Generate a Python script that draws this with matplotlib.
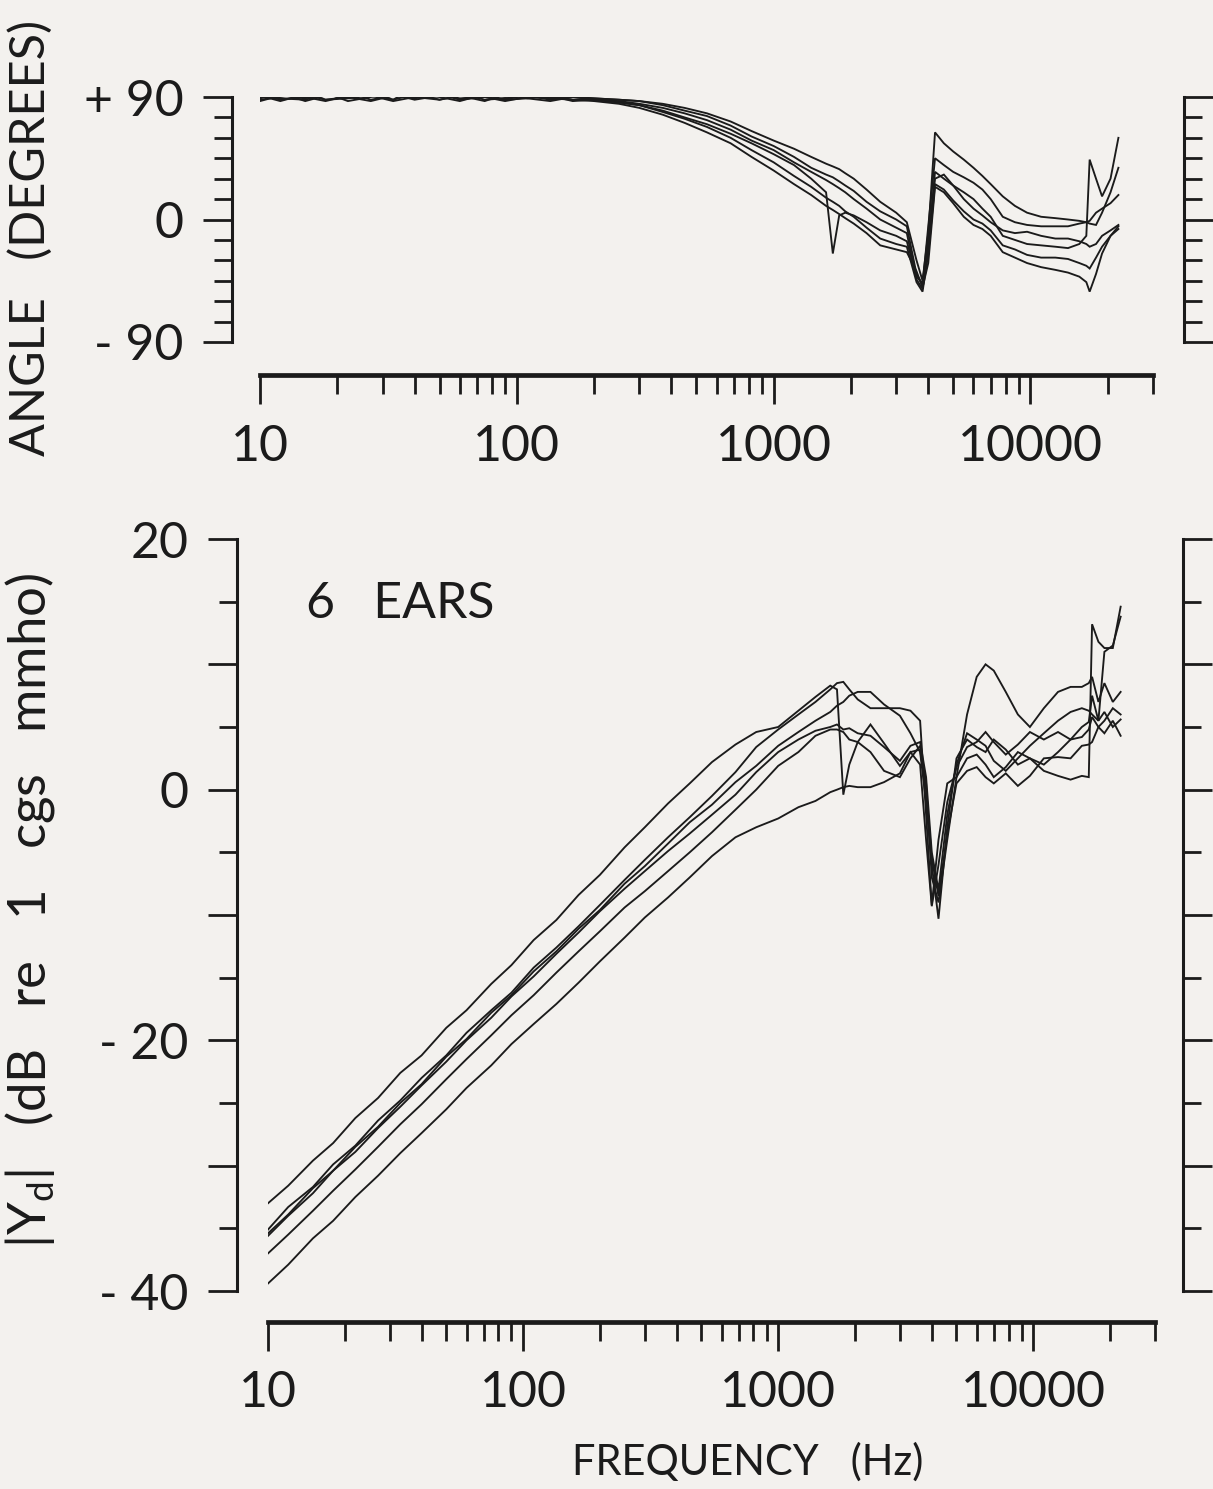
import matplotlib
matplotlib.use("Agg")
import matplotlib.pyplot as plt
from matplotlib.ticker import FixedLocator, LogLocator, NullFormatter

# ---------------------------------------------------------------------------
# Data: driving-point admittance of 6 ears, sampled on a common frequency grid
# ---------------------------------------------------------------------------
freq_hz = [10, 12, 15, 18, 22, 27, 33, 40, 50, 60,
           75, 90, 110, 135, 165, 200, 250, 300, 370, 450,
           550, 680, 820, 1000, 1200, 1400, 1600, 1700, 1800, 1900,
           2050, 2300, 2600, 3000, 3300, 3600, 3800, 4000, 4250, 4600,
           5000, 5500, 6000, 6500, 7000, 7800, 8700, 9700, 11000, 12500,
           14000, 15500, 16500, 17000, 18000, 19000, 20500, 22000]

# |Yd| in dB re 1 cgs mmho
mag_ear1 = [-33.0, -31.6, -29.6, -28.2, -26.2, -24.6, -22.6, -21.2, -19.0, -17.6,
            -15.5, -14.0, -12.0, -10.4, -8.4, -6.8, -4.6, -3.0, -1.1, 0.5,
            2.2, 3.6, 4.6, 5.0, 6.3, 7.4, 8.3, 8.0, -0.4, 2.0,
            3.8, 5.2, 3.7, 1.9, 3.0, 2.0, -4.0, -9.3, -6.0, -1.0,
            1.8, 3.4, 3.8, 4.6, 3.8, 2.8, 3.6, 4.6, 4.0, 4.6,
            4.0, 5.0, 5.4, 7.5, 5.5, 6.2, 5.0, 5.6]
mag_ear2 = [-35.1, -33.3, -31.7, -29.9, -28.4, -26.4, -24.8, -23.0, -21.2, -19.4,
            -17.6, -16.2, -14.2, -12.6, -10.9, -9.2, -7.2, -5.6, -3.8, -2.2,
            -0.5, 1.4, 3.4, 4.8, 6.0, 7.0, 8.0, 8.5, 8.6, 8.0,
            7.2, 6.5, 6.5, 6.5, 6.3, 5.5, -2.0, -9.2, -4.0, 0.5,
            1.0, 6.0, 9.0, 10.0, 9.5, 7.8, 6.0, 5.0, 6.5, 7.8,
            8.2, 8.2, 8.5, 9.0, 7.0, 8.5, 7.0, 7.8]
mag_ear3 = [-35.4, -33.9, -31.8, -30.4, -28.5, -26.9, -25.0, -23.5, -21.3, -19.9,
            -17.8, -16.4, -14.5, -12.9, -11.1, -9.6, -7.5, -6.1, -4.3, -2.6,
            -1.2, 0.6, 1.9, 3.5, 4.6, 5.5, 6.2, 6.7, 7.0, 7.5,
            7.8, 7.8, 6.8, 5.9, 4.5, 3.0, -1.0, -6.0, -10.3, -3.0,
            2.5, 4.0, 3.4, 3.0, 4.0, 3.2, 2.0, 2.5, 1.5, 1.1,
            0.8, 1.1, 1.0, 13.2, 11.8, 11.3, 11.3, 14.6]
mag_ear4 = [-35.6, -34.0, -32.2, -30.4, -28.9, -27.0, -25.3, -23.6, -21.7, -20.0,
            -18.2, -16.5, -14.9, -13.1, -11.4, -9.7, -7.9, -6.5, -4.9, -3.5,
            -2.0, -0.4, 1.4, 3.0, 4.0, 4.7, 5.0, 5.2, 4.8, 4.9,
            4.5, 4.3, 3.4, 2.3, 3.5, 3.8, 1.0, -5.0, -8.0, -2.0,
            2.0, 4.5, 4.0, 3.5, 2.3, 1.5, 2.5, 3.5, 4.5, 5.5,
            6.2, 6.5, 6.3, 6.0, 5.5, 11.0, 11.5, 13.8]
mag_ear5 = [-37.0, -35.5, -33.6, -32.0, -30.3, -28.5, -26.7, -25.1, -23.1, -21.5,
            -19.6, -18.0, -16.4, -14.6, -12.9, -11.3, -9.4, -8.1, -6.5, -5.0,
            -3.4, -1.6, 0.0, 1.9, 3.0, 4.3, 4.8, 4.8, 4.6, 4.0,
            3.8, 3.0, 1.5, 1.0, 2.5, 3.5, 0.5, -7.0, -9.0, -4.0,
            1.0, 2.5, 2.8, 2.0, 1.0, 1.8, 3.0, 2.5, 2.0, 3.0,
            4.0, 4.2, 4.8, 5.8, 5.0, 4.5, 5.5, 4.3]
mag_ear6 = [-39.4, -37.9, -35.8, -34.4, -32.5, -30.8, -29.0, -27.4, -25.5, -23.8,
            -22.0, -20.3, -18.7, -17.1, -15.4, -13.7, -11.8, -10.2, -8.6, -7.0,
            -5.3, -3.8, -3.0, -2.3, -1.4, -0.9, -0.2, 0.0, 0.2, 0.3,
            0.2, 0.2, 0.6, 1.3, 3.0, 3.2, 0.0, -5.5, -8.5, -3.5,
            0.5, 1.5, 1.8, 1.0, 0.5, 1.3, 0.3, 1.1, 2.5, 2.6,
            2.5, 3.5, 3.6, 3.8, 5.0, 5.5, 6.5, 6.0]

# Admittance angle in degrees
phase_ear1 = [89, 93, 87, 91, 94, 88, 91, 93, 88, 91,
              87, 92, 89, 87, 90, 88, 86, 84, 80, 75,
              70, 63, 56, 48, 40, 30, 20, -25, 3, 5,
              3, -2, -8, -12, -16, -42, -47, -15, 30, 33,
              25, 15, 8, 3, -2, -8, -10, -9, -12, -14,
              -14, -16, -18, -20, -18, -12, -8, -4]
phase_ear2 = [91, 87, 92, 88, 90, 93, 88, 92, 90, 87,
              92, 90, 91, 88, 90, 89, 88, 87, 85, 82,
              78, 72, 65, 58, 52, 46, 41, 39, 37, 34,
              30, 22, 13, 5, -2, -30, -45, -10, 64, 56,
              50, 44, 38, 32, 26, 17, 10, 5, 2, 1,
              0, -1, -2, -1, 5, 8, 12, 18]
phase_ear3 = [87, 91, 89, 93, 87, 90, 92, 88, 91, 93,
              88, 89, 91, 90, 88, 88, 87, 85, 82, 78,
              73, 66, 58, 51, 42, 35, 29, 26, 23, 20,
              15, 8, 0, -6, -10, -44, -51, -20, 35, 30,
              25, 20, 15, 8, 2, -12, -15, -18, -19, -20,
              -21, -18, -12, 44, 30, 17, 30, 60]
phase_ear4 = [92, 88, 90, 87, 91, 92, 88, 97, 92, 89,
              90, 88, 92, 89, 90, 89, 88, 87, 84, 80,
              76, 69, 61, 54, 46, 38, 33, 31, 28, 25,
              21, 13, 6, 0, -5, -40, -48, -5, 45, 40,
              35, 31, 27, 22, 15, 2, -2, -4, -5, -5,
              -5, -3, -2, -3, -4, 5, 20, 38]
phase_ear5 = [88, 90, 93, 88, 89, 91, 87, 90, 88, 91,
              92, 88, 89, 91, 87, 88, 86, 84, 79, 74,
              68, 60, 51, 42, 32, 24, 16, 13, 10, 6,
              2, -6, -14, -18, -20, -46, -53, -25, 26, 22,
              14, 6, 0, -3, -8, -19, -22, -26, -28, -28,
              -29, -32, -34, -36, -28, -20, -12, -7]
phase_ear6 = [90, 89, 88, 92, 90, 87, 91, 89, 92, 88,
              90, 87, 90, 89, 88, 87, 85, 82, 77, 71,
              64, 56, 46, 36, 26, 18, 10, 7, 4, 1,
              -3, -10, -19, -22, -24, -38, -50, -32, 24, 20,
              12, 2, -4, -7, -12, -24, -28, -32, -35, -37,
              -39, -42, -46, -53, -40, -25, -12, -5]

freq_ticks = [10, 100, 1000, 10000]
freq_labels = ["10", "100", "1000", "10000"]
phase_ticks = [-90, 0, 90]
phase_labels = ["- 90", "0", "+ 90"]
mag_ticks = [-40, -30, -20, -10, 0, 10, 20]
mag_labels = ["- 40", "", "- 20", "", "0", "", "20"]

# ---------------------------------------------------------------------------
plt.rcParams["font.family"] = ["Lato", "DejaVu Sans"]
plt.rcParams["mathtext.default"] = "regular"

ink = "#1b1b1b"
paper = "#f3f1ee"
W, H = 1213, 1489
fig = plt.figure(figsize=(W / 100, H / 100), dpi=100)
fig.patch.set_facecolor(paper)


def px_axes(x0, y0, x1, y1):
    return fig.add_axes([x0 / W, 1 - y1 / H, (x1 - x0) / W, (y1 - y0) / H])


def style(ax, left_off, right_off, bottom_off):
    ax.set_facecolor("none")
    ax.set_xscale("log")
    ax.set_xlim(10, 30000)
    ax.spines["top"].set_visible(False)
    for side, off in (("left", left_off), ("right", right_off), ("bottom", bottom_off)):
        sp = ax.spines[side]
        sp.set_position(("outward", off))
        sp.set_linewidth(2.2)
        sp.set_color(ink)
        sp.set_capstyle("projecting")
    ax.spines["bottom"].set_linewidth(3.4)
    ax.tick_params(axis="both", which="both", direction="out", color=ink,
                   width=2.0, labelsize=36, labelcolor=ink, pad=14)
    ax.tick_params(axis="y", which="both", left=True, right=True, labelright=False)
    ax.tick_params(axis="x", which="both", top=False)
    ax.tick_params(which="major", length=21)
    ax.tick_params(which="minor", length=13)
    ax.tick_params(axis="x", which="minor", length=14)
    ax.xaxis.set_major_locator(FixedLocator(freq_ticks))
    ax.set_xticklabels(freq_labels)
    ax.xaxis.set_minor_locator(LogLocator(base=10, subs=range(2, 10)))
    ax.xaxis.set_minor_formatter(NullFormatter())


ears_phase = [phase_ear1, phase_ear2, phase_ear3, phase_ear4, phase_ear5, phase_ear6]
ears_mag = [mag_ear1, mag_ear2, mag_ear3, mag_ear4, mag_ear5, mag_ear6]

# Angle panel
ax_ph = px_axes(260, 97, 1153, 342)
style(ax_ph, 20, 22, 24)
for ph in ears_phase:
    ax_ph.plot(freq_hz, ph, color=ink, lw=1.35, solid_joinstyle="miter")
ax_ph.set_ylim(-90, 90)
ax_ph.yaxis.set_major_locator(FixedLocator(phase_ticks))
ax_ph.set_yticklabels(phase_labels)
ax_ph.yaxis.set_minor_locator(FixedLocator(list(range(-75, 90, 15))))

# Magnitude panel
ax_mag = px_axes(268, 539, 1155, 1291)
style(ax_mag, 22, 20, 22)
for mg in ears_mag:
    ax_mag.plot(freq_hz, mg, color=ink, lw=1.35, solid_joinstyle="miter")
ax_mag.set_ylim(-40, 20)
ax_mag.yaxis.set_major_locator(FixedLocator(mag_ticks))
ax_mag.set_yticklabels(mag_labels)
ax_mag.yaxis.set_minor_locator(FixedLocator(list(range(-35, 20, 10))))
ax_mag.text(14.1, 14.8, "6   EARS", ha="left", va="center", size=36, color=ink)

# Axis titles
fig.text(30 / W, 1 - 238 / H, "ANGLE   (DEGREES)", rotation=90,
         ha="center", va="center", size=35, color=ink)
fig.text(30 / W, 1 - 910 / H, r"$|Y_d|$   (dB   re   1   cgs   mmho)", rotation=90,
         ha="center", va="center", size=38, color=ink)
fig.text(748 / W, 1 - 1462 / H, "FREQUENCY   (Hz)", ha="center", va="center",
         size=30, color=ink)

fig.savefig("out.png", dpi=100, facecolor=paper)
